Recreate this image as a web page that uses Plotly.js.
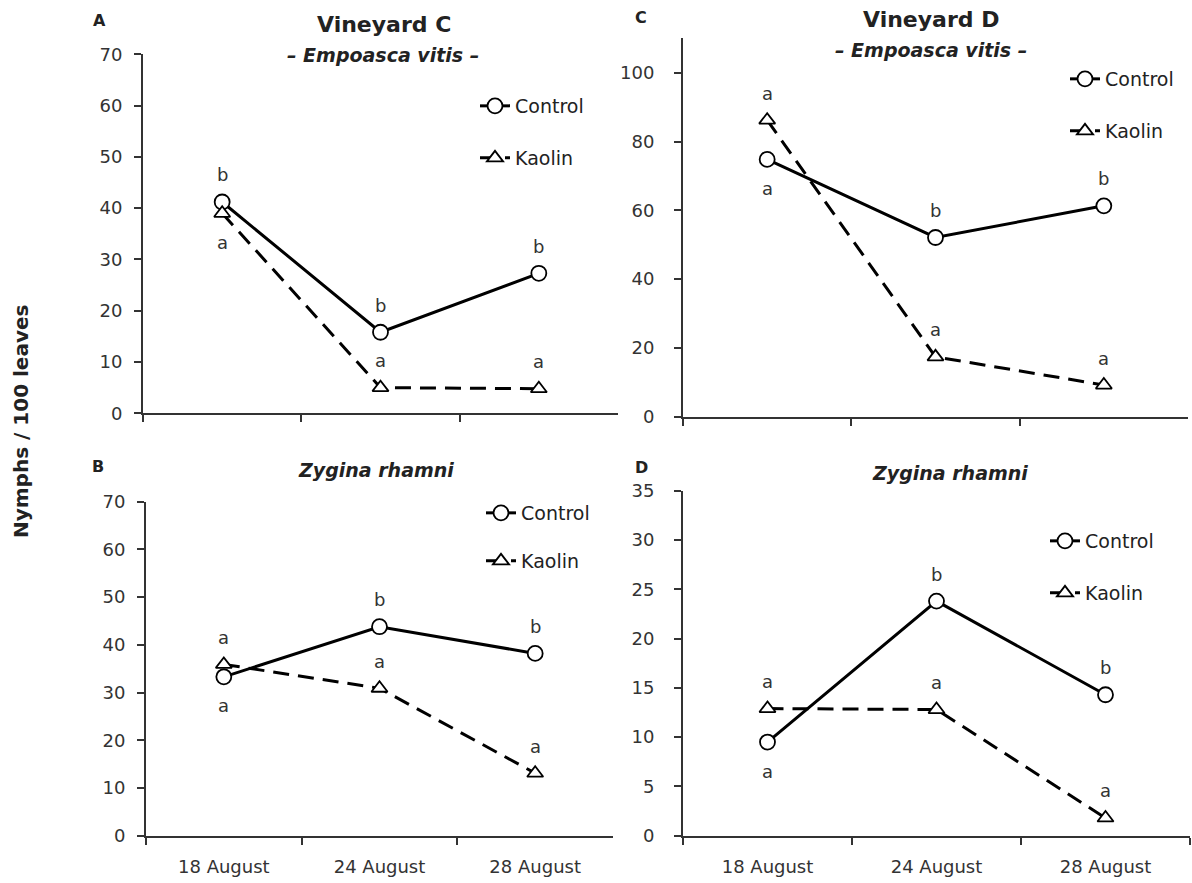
<!DOCTYPE html>
<html>
<head>
<meta charset="utf-8">
<script src="https://cdn.plot.ly/plotly-3.0.1.min.js"></script>
<style>
  html, body { margin: 0; padding: 0; background: #fff; }
  #chart { width: 1192px; height: 883px; }
</style>
</head>
<body>
<div id="chart"></div>
<script>
// Sampling dates (x categories)
const dates = ['18 August', '24 August', '28 August'];

// Vineyard C – Empoasca vitis (nymphs / 100 leaves)
const cEmpoascaControl = [41.2, 15.8, 27.3];
const cEmpoascaKaolin  = [39.0, 5.0, 4.8];
const cEmpoascaControlSig = ['b', 'b', 'b'];
const cEmpoascaKaolinSig  = ['a', 'a', 'a'];

// Vineyard C – Zygina rhamni
const cZyginaControl = [33.3, 43.8, 38.2];
const cZyginaKaolin  = [35.9, 30.9, 13.1];
const cZyginaControlSig = ['a', 'b', 'b'];
const cZyginaKaolinSig  = ['a', 'a', 'a'];

// Vineyard D – Empoasca vitis
const dEmpoascaControl = [74.8, 52.1, 61.3];
const dEmpoascaKaolin  = [86.2, 17.4, 9.2];
const dEmpoascaControlSig = ['a', 'b', 'b'];
const dEmpoascaKaolinSig  = ['a', 'a', 'a'];

// Vineyard D – Zygina rhamni
const dZyginaControl = [9.5, 23.8, 14.3];
const dZyginaKaolin  = [12.9, 12.8, 1.8];
const dZyginaControlSig = ['a', 'b', 'b'];
const dZyginaKaolinSig  = ['a', 'a', 'a'];

// ---------------------------------------------------------------------------
const W = 1192, H = 883;
const FONT = '"DejaVu Sans", Verdana, sans-serif';
const px = v => v / W;
const py = v => 1 - v / H;

// panel definitions: axis suffix, data, letter placement (+1 above / -1 below),
// legend anchor (marker centre x, row centres y)
const panels = [
  { ax: '',  control: cEmpoascaControl, kaolin: cEmpoascaKaolin,
    cSig: cEmpoascaControlSig, kSig: cEmpoascaKaolinSig,
    cPos: [1, 1, 1], kPos: [-1, 1, 1], leg: [497, 106, 158] },
  { ax: '2', control: cZyginaControl, kaolin: cZyginaKaolin,
    cSig: cZyginaControlSig, kSig: cZyginaKaolinSig,
    cPos: [-1, 1, 1], kPos: [1, 1, 1], leg: [503, 513, 561] },
  { ax: '3', control: dEmpoascaControl, kaolin: dEmpoascaKaolin,
    cSig: dEmpoascaControlSig, kSig: dEmpoascaKaolinSig,
    cPos: [-1, 1, 1], kPos: [1, 1, 1], leg: [1087, 79, 131] },
  { ax: '4', control: dZyginaControl, kaolin: dZyginaKaolin,
    cSig: dZyginaControlSig, kSig: dZyginaKaolinSig,
    cPos: [-1, 1, 1], kPos: [1, 1, 1], leg: [1067, 541, 593] }
];

const traces = [];
const annotations = [];
const legends = {};
let legendCount = 0;

const legendBox = (cx, cy) => ({
  x: px(cx - 22), y: py(cy - 19), xanchor: 'left', yanchor: 'top',
  font: { family: FONT, size: 19, color: '#222' },
  bgcolor: 'rgba(0,0,0,0)', itemclick: false, itemdoubleclick: false
});
const nextLegend = (cx, cy) => {
  legendCount += 1;
  const key = legendCount === 1 ? 'legend' : 'legend' + legendCount;
  legends[key] = legendBox(cx, cy);
  return key;
};

panels.forEach(p => {
  const xa = 'x' + p.ax, ya = 'y' + p.ax;
  traces.push({
    x: dates, y: p.control, xaxis: xa, yaxis: ya, legend: nextLegend(p.leg[0], p.leg[1]),
    name: 'Control', type: 'scatter', mode: 'lines+markers',
    line: { color: '#000', width: 3 },
    marker: { symbol: 'circle', size: 15, color: '#fff', line: { color: '#000', width: 1.8 } },
    hoverinfo: 'skip', cliponaxis: false
  });
  traces.push({
    x: dates, y: p.kaolin, xaxis: xa, yaxis: ya, legend: nextLegend(p.leg[0], p.leg[2]),
    name: 'Kaolin', type: 'scatter', mode: 'lines+markers',
    line: { color: '#000', width: 3, dash: '16px,9px' },
    marker: { symbol: 'triangle-up', size: 14, color: '#fff', line: { color: '#000', width: 1.8 } },
    hoverinfo: 'skip', cliponaxis: false
  });
  const addSig = (vals, sig, pos) => {
    vals.forEach((v, i) => {
      annotations.push({
        xref: xa, yref: ya, x: dates[i], y: v, text: sig[i], showarrow: false,
        yshift: pos[i] > 0 ? 27 : -29,
        font: { family: FONT, size: 18, color: '#333' }
      });
    });
  };
  addSig(p.control, p.cSig, p.cPos);
  addSig(p.kaolin, p.kSig, p.kPos);
});

// panel titles and letters
const textItems = [
  ['<b>Vineyard C</b>', 384, 24, 22],
  ['<b><i>– Empoasca vitis –</i></b>', 383, 55, 19],
  ['<b>Vineyard D</b>', 931, 19, 22],
  ['<b><i>– Empoasca vitis –</i></b>', 931, 50, 19],
  ['<b><i>Zygina rhamni</i></b>', 376, 470, 19],
  ['<b><i>Zygina rhamni</i></b>', 950, 473, 19],
  ['<b>A</b>', 99, 21, 16],
  ['<b>B</b>', 98, 466, 16],
  ['<b>C</b>', 641, 17, 16],
  ['<b>D</b>', 641, 467, 16]
];
textItems.forEach(([t, x, y, s]) => {
  annotations.push({
    xref: 'paper', yref: 'paper', x: px(x), y: py(y), text: t, showarrow: false,
    xanchor: 'center', yanchor: 'middle', font: { family: FONT, size: s, color: '#222' }
  });
});

annotations.push({
  xref: 'paper', yref: 'paper', x: px(21), y: py(422), text: '<b>Nymphs / 100 leaves</b>',
  textangle: -90, showarrow: false, xanchor: 'center', yanchor: 'middle',
  font: { family: FONT, size: 20, color: '#222' }
});

const baseX = (dom, labels) => ({
  domain: dom, type: 'category', range: [-0.5, 2.5], tickson: 'boundaries',
  ticks: 'outside', ticklen: 7, tickwidth: 2, tickcolor: '#333',
  showline: true, linecolor: '#333', linewidth: 2, showgrid: false, zeroline: false,
  showticklabels: labels, ticklabelstandoff: 14,
  tickfont: { family: FONT, size: 18, color: '#333' },
  fixedrange: true
});
const baseY = (dom, range, dtick, standoff) => ({
  domain: dom, range: range, dtick: dtick, tick0: 0,
  ticks: 'outside', ticklen: 7, tickwidth: 2, tickcolor: '#333',
  showline: true, linecolor: '#333', linewidth: 2, showgrid: false, zeroline: false,
  ticklabelstandoff: standoff,
  tickfont: { family: FONT, size: 18, color: '#333' }, fixedrange: true
});

const layout = Object.assign({
  width: W, height: H,
  margin: { l: 0, r: 0, t: 0, b: 0 },
  paper_bgcolor: '#fff', plot_bgcolor: '#fff',
  showlegend: true,
  font: { family: FONT },
  xaxis:  Object.assign(baseX([px(143), px(618)], false), { anchor: 'y' }),
  yaxis:  Object.assign(baseY([py(413.3), py(54.3)], [0, 70], 10, 8), { anchor: 'x' }),
  xaxis2: Object.assign(baseX([px(146), px(613)], true), { anchor: 'y2' }),
  yaxis2: Object.assign(baseY([py(835.7), py(501.7)], [0, 70], 10, 8), { anchor: 'x2' }),
  xaxis3: Object.assign(baseX([px(683), px(1188)], false), { anchor: 'y3' }),
  yaxis3: Object.assign(baseY([py(416.7), py(38.3)], [0, 110], 20, 16), { anchor: 'x3' }),
  xaxis4: Object.assign(baseX([px(683), px(1190)], true), { anchor: 'y4' }),
  yaxis4: Object.assign(baseY([py(835.7), py(490.7)], [0, 35], 5, 16), { anchor: 'x4' }),
  annotations: annotations
}, legends);

Plotly.newPlot('chart', traces, layout, { displayModeBar: false, staticPlot: true });
</script>
</body>
</html>
